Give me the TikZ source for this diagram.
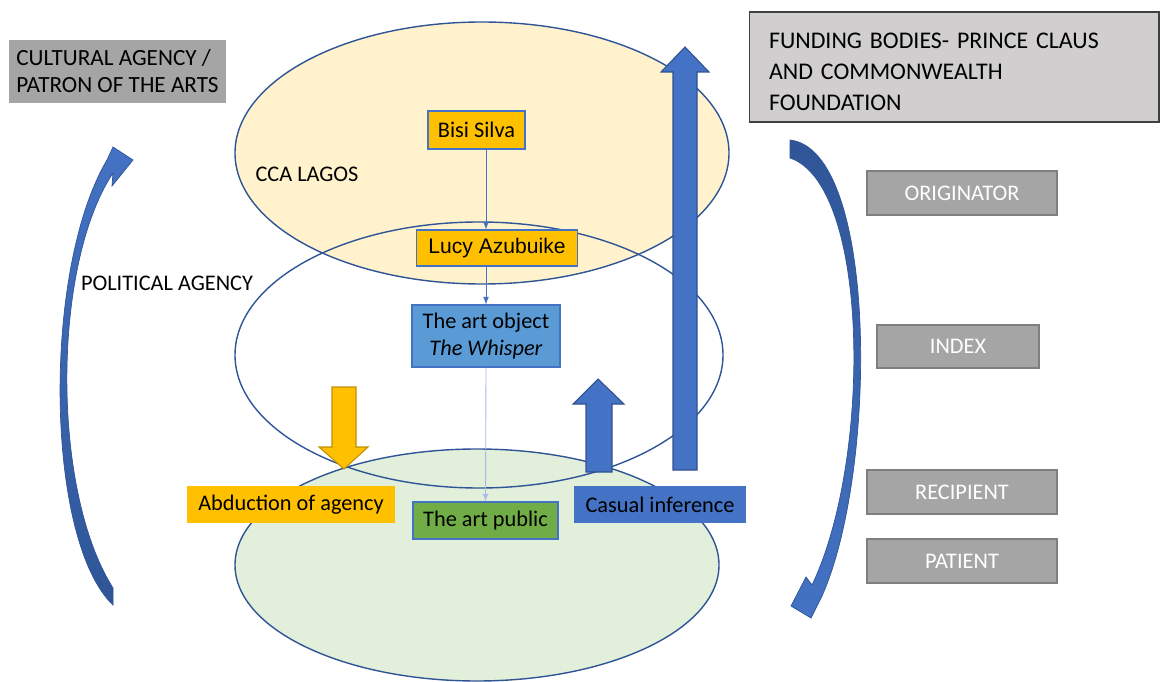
\documentclass[tikz,border=0pt]{standalone}
\usepackage{fontspec}
\setmainfont{Carlito}
\newfontfamily\arialfont{Liberation Sans}
\usepackage{tikz}
\tikzset{every edge/.style={draw}}

\definecolor{ccayellow}{HTML}{FFF2CC}
\definecolor{publicgreen}{HTML}{E2EFDA}
\definecolor{rimblue}{HTML}{2F5597}
\definecolor{gold}{HTML}{FFC000}
\definecolor{golddark}{HTML}{BF9000}
\definecolor{accblue}{HTML}{4472C4}
\definecolor{accbluedark}{HTML}{2F528F}
\definecolor{lineblue}{HTML}{A4BCE6}
\definecolor{objblue}{HTML}{5B9BD5}
\definecolor{grassgreen}{HTML}{70AD47}
\definecolor{roleg}{HTML}{A5A5A5}
\definecolor{rolegdark}{HTML}{7F7F7F}
\definecolor{fundgray}{HTML}{D0CECE}

\begin{document}
\begin{tikzpicture}[x=0.02cm, y=-0.02cm,
    every node/.style={font=\fontsize{12.7}{15.2}\selectfont},
    actor/.style={draw=accblue, line width=0.6pt, inner sep=0pt},
    role/.style={draw=rolegdark, line width=0.8pt, fill=roleg, text=white,
                 minimum width=3.8cm, minimum height=0.88cm, inner sep=0pt},
    flow/.style={accblue, line width=0.5pt, -latex},
    rim/.style={rimblue, line width=0.8pt}]
    \useasboundingbox (0,0) rectangle (1166,682);

    % the three spheres
    \fill[ccayellow] (482,153) ellipse [x radius=247, y radius=131];
    \fill[publicgreen] (477,565) ellipse [x radius=242, y radius=116];
    \draw[rim] (482,153) ellipse [x radius=247, y radius=131];
    \draw[rim] (479,355) ellipse [x radius=244, y radius=133];
    \draw[rim] (477,565) ellipse [x radius=242, y radius=116];

    \node at (307,174) (cca) {CCA LAGOS};
    \node at (167,283) (political) {POLITICAL AGENCY};

    \node[fill=roleg, minimum width=4.34cm, minimum height=1.26cm, align=left, inner sep=0pt,
          font=\fontsize{13.2}{15.4}\selectfont] at (117.5,71.5) (cultural)
          {CULTURAL AGENCY /\\PATRON OF THE ARTS};
    \node[draw=black!75, line width=0.6pt, fill=fundgray, minimum width=8.2cm, minimum height=2.2cm,
          text width=7.4cm, align=left, inner xsep=0.4cm, font=\fontsize{13.6}{17.6}\selectfont] at (954,67) (funding)
          {\rule{0pt}{14pt}FUNDING BODIES- PRINCE CLAUS\\AND COMMONWEALTH\\FOUNDATION};

    \node[actor, fill=gold, minimum width=1.94cm, minimum height=0.76cm] at (476.5,130) (bisi) {Bisi Silva};
    \node[actor, fill=gold, minimum width=3.22cm, minimum height=0.72cm,
          font=\arialfont\fontsize{12}{14}\selectfont] at (497,248) (lucy) {Lucy Azubuike};
    \node[actor, fill=objblue, minimum width=2.96cm, minimum height=1.24cm, align=center] at (486,336) (obj)
          {The art object\\\textit{The Whisper}};
    \node[actor, fill=grassgreen, minimum width=2.9cm, minimum height=0.74cm] at (485.5,520.5) (public) {The art public};

    \node[fill=gold, minimum width=4.16cm, minimum height=0.74cm, inner sep=0pt] at (291,504.5) (abduction) {Abduction of agency};
    \node[fill=accblue, minimum width=3.44cm, minimum height=0.74cm, inner sep=0pt] at (660,504.5) (casual) {Casual inference};

    \node[role] at (962,193) (originator) {ORIGINATOR};
    \node[role, minimum width=3.24cm, minimum height=0.86cm] at (958,346.5) (index) {INDEX};
    \node[role] at (962,492) (recipient) {RECIPIENT};
    \node[role] at (962,561) (patient) {PATIENT};

    \draw[flow] (bisi.south -| obj) -- (lucy.north -| obj);
    \draw[flow] (lucy.south -| obj) -- (obj.north);
    \draw[flow, lineblue] (obj.south) -- (public.north);

    % block arrows
    \filldraw[fill=gold, draw=golddark, line width=0.6pt]
        (332,387) -- (356,387) -- (356,447) -- (368,447) -- (344,469) -- (319,447) -- (332,447) -- cycle;
    \filldraw[fill=accblue, draw=accbluedark, line width=0.6pt]
        (586,472) -- (586,404) -- (573,404) -- (598,379) -- (624,404) -- (612,404) -- (612,472) -- cycle;
    \filldraw[fill=accblue, draw=accbluedark, line width=0.6pt]
        (673,470) -- (673,72) -- (661,72) -- (685,47) -- (709,72) -- (697,72) -- (697,470) -- cycle;

    % curved arrows
    \shade[top color=accblue, bottom color=rimblue, draw=rimblue, line width=0.4pt]
        (113,605) .. controls (45,540) and (42,270) .. (107,160) -- (113,147) -- (133,160) -- (112,186)
        -- (113,173) .. controls (52,265) and (51,490) .. (113,588) -- cycle;
    \shade[top color=rimblue, bottom color=accblue, draw=rimblue, line width=0.4pt]
        (790,140) .. controls (878,150) and (878,470) .. (822,596) -- (811,618) -- (791,606) -- (806,577)
        -- (812,585) .. controls (872,460) and (870,185) .. (790,158) -- cycle;
\end{tikzpicture}
\end{document}
